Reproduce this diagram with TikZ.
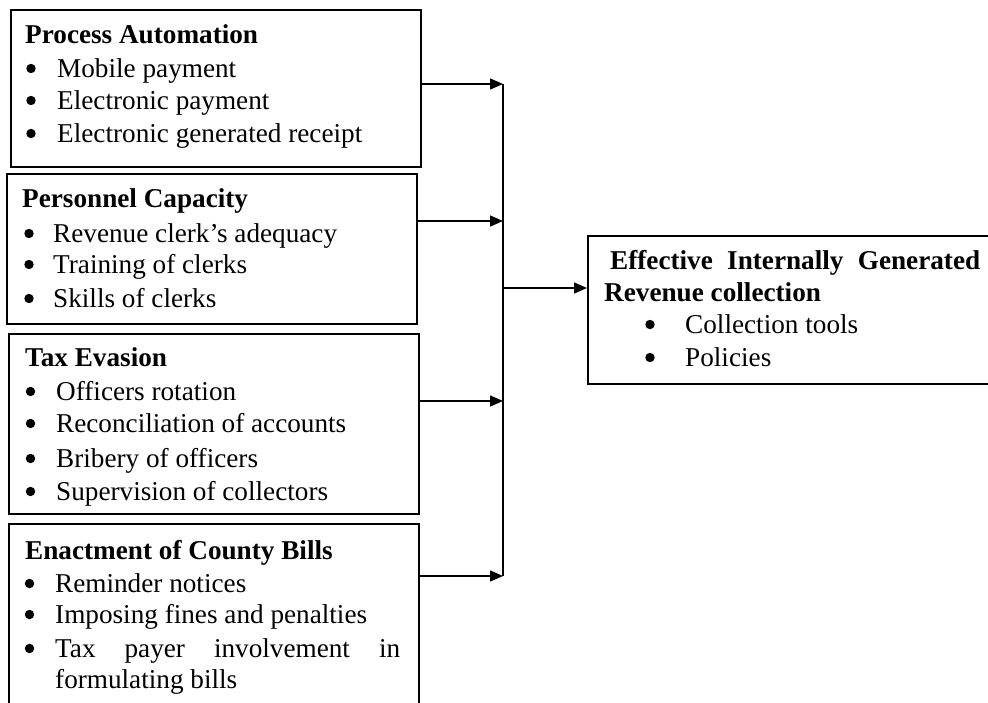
\documentclass[tikz,border=0pt]{standalone}
\usepackage{fontspec}
\setmainfont{Liberation Serif}
\usetikzlibrary{arrows.meta}
\tikzset{
  box/.style={draw, line width=1.6pt, rectangle, anchor=north west, inner sep=0pt},
  ttl/.style={anchor=base west, inner sep=0pt, font=\fontsize{27.2}{33}\selectfont\bfseries},
  itm/.style={anchor=base west, inner sep=0pt, font=\fontsize{27.2}{33}\selectfont},
  arr/.style={line width=1.5pt, -{Triangle[length=13pt,width=11pt]}},
  bus/.style={line width=1.5pt},
  dot/.style={fill=black, draw=none},
}
\begin{document}
\begin{tikzpicture}[x=1pt,y=-1pt]
\useasboundingbox (0,0) rectangle (988,702);
\clip (0,0) rectangle (988,702);
\fill[white] (0,0) rectangle (988,702);
% boxes
\node[box, minimum width=410pt, minimum height=157pt] (b1) at (10,9) {};
\node[box, minimum width=410pt, minimum height=150pt] (b2) at (6,173) {};
\node[box, minimum width=410pt, minimum height=180pt] (b3) at (8,333) {};
\node[box, minimum width=410pt, minimum height=210pt] (b4) at (8,523) {};
\node[box, minimum width=430pt, minimum height=148pt] (out) at (587,235) {};
% box 1
\node[ttl] (t1) at (25,43) {Process Automation};
\node[itm] (t1a) at (57,77) {Mobile payment};
\node[itm] (t1b) at (57,109) {Electronic payment};
\node[itm] (t1c) at (57,142) {Electronic generated receipt};
% box 2
\node[ttl] (t2) at (22,207) {Personnel Capacity};
\node[itm] (t2a) at (53,242) {Revenue clerk’s adequacy};
\node[itm] (t2b) at (53,273) {Training of clerks};
\node[itm] (t2c) at (53,307) {Skills of clerks};
% box 3
\node[ttl] (t3) at (25,366) {Tax Evasion};
\node[itm] (t3a) at (56,400) {Officers rotation};
\node[itm] (t3b) at (56,432) {Reconciliation of accounts};
\node[itm] (t3c) at (56,467) {Bribery of officers};
\node[itm] (t3d) at (56,500) {Supervision of collectors};
% box 4
\node[ttl] (t4) at (25,559) {Enactment of County Bills};
\node[itm] (t4a) at (55,592) {Reminder notices};
\node[itm] (t4b) at (55,623) {Imposing fines and penalties};
\node[itm] (t4c) at (55,657) {\makebox[345pt][s]{Tax payer involvement in}};
\node[itm] (t4d) at (55,688) {formulating bills};
% output box
\node[ttl] (to1) at (610,269) {\makebox[370pt][s]{Effective Internally Generated}};
\node[ttl] (to2) at (604,301) {Revenue collection};
\node[itm] (toa) at (685,333) {Collection tools};
\node[itm] (tob) at (685,366) {Policies};
% bullets
\foreach \n in {t1a,t1b,t1c}
  \fill[dot] (\n.base west) ++(-26,-8.5) circle (4.7pt);
\foreach \n in {t2a,t2b,t2c}
  \fill[dot] (\n.base west) ++(-24,-8.5) circle (4.7pt);
\foreach \n in {t3a,t3b,t3c,t3d,t4a,t4b,t4c}
  \fill[dot] (\n.base west) ++(-25.5,-8.5) circle (4.7pt);
\foreach \n in {toa,tob}
  \fill[dot] (\n.base west) ++(-35,-8.5) circle (4.7pt);
% connectors
\coordinate (j1) at (503,84);
\coordinate (j2) at (503,221);
\coordinate (j3) at (503,401);
\coordinate (j4) at (503,576);
\coordinate (jo) at (503,288);
\draw[bus] (j1) -- (j4);
\draw[arr] (b1.east |- j1) -- (j1);
\draw[arr] (b2.east |- j2) -- (j2);
\draw[arr] (b3.east |- j3) -- (j3);
\draw[arr] (b4.east |- j4) -- (j4);
\draw[arr] (jo) -- (out.west |- jo);
\end{tikzpicture}
\end{document}
